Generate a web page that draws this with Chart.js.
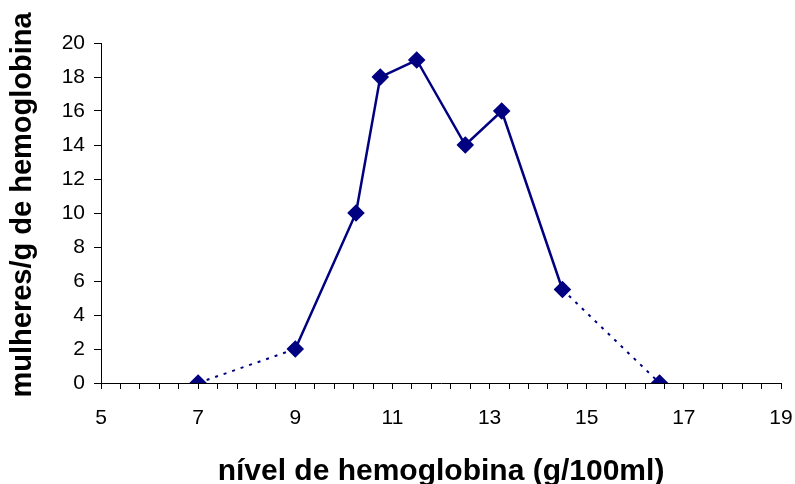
<!DOCTYPE html>
<html>
<head>
<meta charset="utf-8">
<script src="https://cdn.jsdelivr.net/npm/chart.js@4.4.1/dist/chart.umd.min.js"></script>
<style>
  html, body { margin: 0; padding: 0; background: #fff; }
  #wrap { width: 795px; height: 484px; }
</style>
</head>
<body>
<div id="wrap"><canvas id="chart" width="795" height="484"></canvas></div>
<script>
// hemoglobin level (g/100ml) and women per g of hemoglobin
const hemoglobin = [7, 9, 10.25, 10.75, 11.5, 12.5, 13.25, 14.5, 16.5];
const women = [0, 2, 10, 18, 19, 14, 16, 5.5, 0];
// segments drawn dotted (index of the starting point)
const dottedSegments = [0, 7];

const xLabelText = 'nível de hemoglobina (g/100ml)';
const yLabelText = 'mulheres/g de hemoglobina';

const navy = '#000080';
const fontFamily = '"Liberation Sans", Arial, sans-serif';

const ctx = document.getElementById('chart').getContext('2d');

new Chart(ctx, {
  type: 'line',
  data: {
    datasets: [{
      data: hemoglobin.map((x, i) => ({ x: x, y: women[i] })),
      borderColor: navy,
      backgroundColor: navy,
      borderWidth: 2.5,
      pointStyle: 'rectRot',
      pointRadius: 7,
      pointHoverRadius: 7,
      tension: 0,
      segment: {
        borderDash: (c) => dottedSegments.includes(c.p0DataIndex) ? [3, 6] : undefined,
        borderWidth: (c) => dottedSegments.includes(c.p0DataIndex) ? 2 : undefined
      }
    }]
  },
  options: {
    responsive: false,
    animation: false,
    layout: { padding: { left: 0, top: 43, right: 14, bottom: 0 } },
    plugins: { legend: { display: false }, tooltip: { enabled: false } },
    scales: {
      x: {
        type: 'linear',
        min: 5,
        max: 19,
        afterFit: (s) => {
          s.height = 101;
          // keep the plot area fixed, ignore label overhang
          s.paddingLeft = 0;
          s.paddingRight = 0;
        },
        afterBuildTicks: (s) => {
          const t = [];
          for (let i = 0; i <= 35; i++) t.push({ value: 5 + i * 0.4 });
          s.ticks = t;
        },
        ticks: {
          autoSkip: false,
          maxRotation: 0,
          color: '#000',
          font: { family: fontFamily, size: 21 },
          padding: 17,
          callback: (v) => {
            const r = Math.round(v);
            return Math.abs(v - r) < 1e-6 && r % 2 === 1 ? String(r) : '';
          }
        },
        grid: { drawOnChartArea: false, drawTicks: true, tickLength: 6, color: '#000' },
        border: { color: '#000', width: 1 },
        title: {
          display: true,
          text: xLabelText,
          color: '#000',
          font: { family: fontFamily, size: 30, weight: 'bold', lineHeight: 1 },
          padding: { top: 14, bottom: -3 }
        }
      },
      y: {
        min: 0,
        max: 20,
        afterFit: (s) => {
          s.width = 101;
          s.paddingTop = 0;
          s.paddingBottom = 0;
        },
        ticks: {
          stepSize: 2,
          color: '#000',
          font: { family: fontFamily, size: 21 },
          padding: 9
        },
        grid: { drawOnChartArea: false, drawTicks: true, tickLength: 7, color: '#000' },
        border: { color: '#000', width: 1 },
        title: {
          display: true,
          // leading spaces nudge the rotated label upward like the original
          text: '  ' + yLabelText,
          color: '#000',
          font: { family: fontFamily, size: 29, weight: 'bold' },
          padding: { top: 6, bottom: 0 }
        }
      }
    }
  }
});
</script>
</body>
</html>
